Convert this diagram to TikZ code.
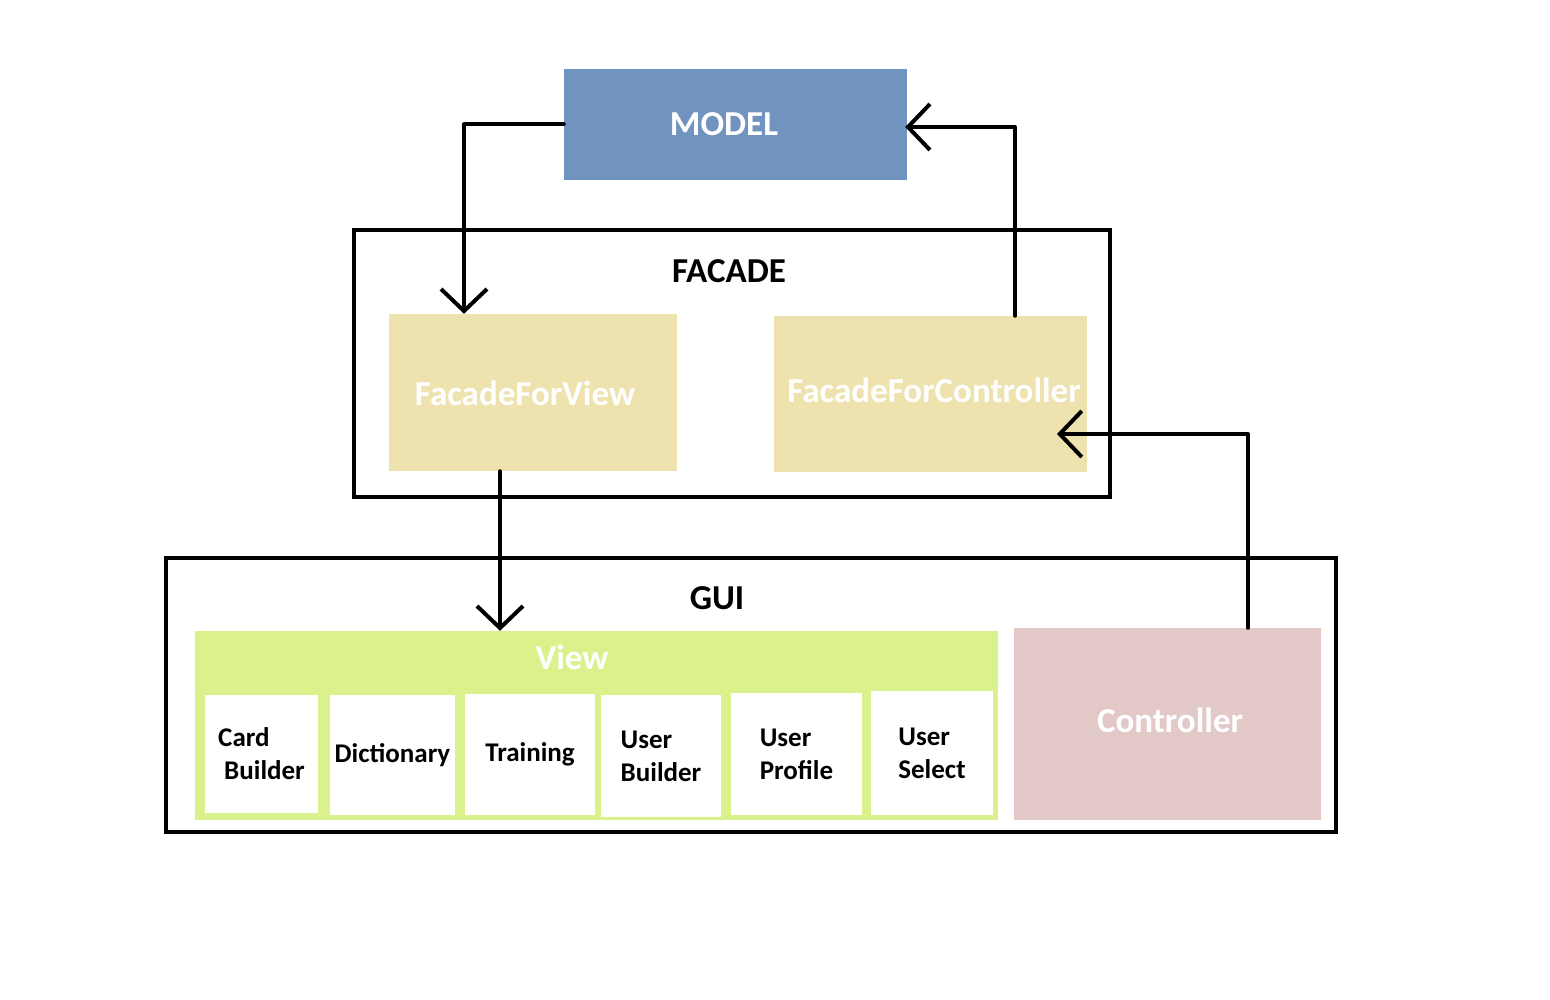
\documentclass[tikz,border=0pt]{standalone}
\usepackage{fontspec}
\setmainfont{Carlito}
\usepackage{tikz}
\usetikzlibrary{arrows.meta,positioning}
\usepackage{xcolor}
\definecolor{modelblue}{HTML}{7093C0}
\definecolor{facadefill}{HTML}{EEE2AF}
\definecolor{viewfill}{HTML}{DAF18C}
\definecolor{ctrlfill}{HTML}{E3C8C8}

\begin{document}
\begin{tikzpicture}[
  x=1pt, y=-1pt,
  frame/.style={draw=black, line width=4pt, inner sep=0pt},
  title/.style={font=\fontsize{35}{40}\selectfont\bfseries, text=black},
  block/.style={inner sep=0pt, align=center, text=white, font=\fontsize{35}{40}\selectfont\bfseries},
  part/.style={fill=white, inner sep=0pt, align=left, font=\fontsize{27}{33}\selectfont\bfseries},
  arrow/.style={-{Straight Barb[length=22pt,width=46pt]}, line width=4pt, line cap=round, line join=round}
]
\useasboundingbox (0,0) rectangle (1550,1000);

% model layer
\node[block, fill=modelblue, minimum width=343pt, minimum height=111pt] (model) at (735.5,124.5) {};
\node[block] (modellbl) at (724,124) {MODEL};

% facade layer
\node[frame, minimum width=756pt, minimum height=267pt] (facade) at (732,363.5) {};
\node[title] (facadelbl) at (729,271) {FACADE};
\node[block, fill=facadefill, minimum width=288pt, minimum height=157pt] (fview) at (533,392.5) {};
\node[block] (fviewlbl) at (525,393) {FacadeForView};
\node[block, fill=facadefill, minimum width=313pt, minimum height=156pt] (fctrl) at (930.5,394) {};
\node[block] (fctrllbl) at (934,390) {FacadeForController};

% gui layer
\node[frame, minimum width=1170pt, minimum height=274pt] (gui) at (751,695) {};
\node[title] (guilbl) at (717,598) {GUI};
\node[fill=viewfill, inner sep=0pt, minimum width=803pt, minimum height=189pt] (view) at (596.5,725.5) {};
\node[block] (viewlbl) at (572,657) {View};
\node[part, minimum width=113pt, minimum height=118pt] (cardb) at (261.5,754) {Card\\\hspace*{6pt}Builder};
\node[part, minimum width=125pt, minimum height=120pt] (dict) at (392.5,755) {Dictionary};
\node[part, minimum width=130pt, minimum height=121pt] (train) at (530,754.5) {Training};
\node[part, minimum width=120pt, minimum height=122pt] (ubuild) at (661,756) {User\\Builder};
\node[part, minimum width=131pt, minimum height=122pt] (uprof) at (796.5,754) {User\\Profile};
\node[part, minimum width=122pt, minimum height=124pt] (usel) at (932,753) {User\\Select};
\node[block, fill=ctrlfill, minimum width=307pt, minimum height=192pt] (ctrl) at (1167.5,724) {};
\node[block] (ctrllbl) at (1170,720) {Controller};

\coordinate (fcin) at (1057,434);

% connectors
\draw[arrow] (model.west) -| ([xshift=-69pt]fview.north);
\draw[arrow] ([xshift=84.5pt]fctrl.north) |- ([yshift=-2.5pt,xshift=-2pt]model.east);
\draw[arrow] ([xshift=-33pt]fview.south) -- ([xshift=-33pt]fview.south |- view.north);
\draw[arrow] ([xshift=80.5pt]ctrl.north) |- (fcin);
\end{tikzpicture}
\end{document}
